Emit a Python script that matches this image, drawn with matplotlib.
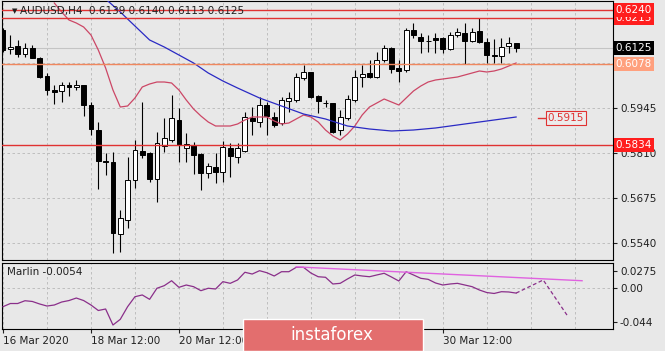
import numpy as np
import matplotlib
matplotlib.use("Agg")
import matplotlib.pyplot as plt
from matplotlib.patches import Rectangle
from matplotlib.transforms import blended_transform_factory

# ---- AUDUSD H4 candles (bar index 0 = 16 Mar 12:00) ----
opens = [0.6179, 0.6122, 0.6131, 0.6107, 0.6125, 0.6095, 0.6041, 0.5999, 0.5996, 0.6014,
         0.6008, 0.6014, 0.5954, 0.5879, 0.5786, 0.5783, 0.5567, 0.5609, 0.5729, 0.5816,
         0.5810, 0.5732, 0.5831, 0.5849, 0.5909, 0.5825, 0.5834, 0.5807, 0.5750, 0.5768,
         0.5753, 0.5825, 0.5798, 0.5816, 0.5915, 0.5903, 0.5954, 0.5918, 0.5900, 0.5966,
         0.5969, 0.6035, 0.6053, 0.5981, 0.5960, 0.5960, 0.5879, 0.5915, 0.5969, 0.6038,
         0.6050, 0.6038, 0.6089, 0.6125, 0.6065, 0.6059, 0.6179, 0.6158, 0.6146, 0.6155,
         0.6155, 0.6122, 0.6164, 0.6170, 0.6146, 0.6176, 0.6143, 0.6104, 0.6101, 0.6131,
         0.6139]
highs = [0.6185, 0.6164, 0.6149, 0.6140, 0.6134, 0.6098, 0.6050, 0.6014, 0.6023, 0.6023,
         0.6029, 0.6014, 0.5963, 0.5903, 0.5810, 0.5813, 0.5639, 0.5798, 0.5849, 0.5963,
         0.5813, 0.5873, 0.5915, 0.5984, 0.5945, 0.5870, 0.5843, 0.5810, 0.5780, 0.5810,
         0.5846, 0.5840, 0.5840, 0.5933, 0.5948, 0.5978, 0.5963, 0.5933, 0.5978, 0.5993,
         0.6050, 0.6074, 0.6053, 0.5984, 0.5969, 0.5960, 0.5939, 0.5984, 0.6059, 0.6074,
         0.6089, 0.6113, 0.6134, 0.6128, 0.6089, 0.6185, 0.6200, 0.6170, 0.6164, 0.6170,
         0.6158, 0.6173, 0.6185, 0.6200, 0.6185, 0.6215, 0.6155, 0.6152, 0.6155, 0.6158,
         0.6140]
lows = [0.6113, 0.6107, 0.6098, 0.6098, 0.6095, 0.6035, 0.5984, 0.5957, 0.5963, 0.5981,
        0.5999, 0.5921, 0.5864, 0.5702, 0.5744, 0.5510, 0.5513, 0.5585, 0.5705, 0.5795,
        0.5723, 0.5663, 0.5813, 0.5843, 0.5783, 0.5783, 0.5747, 0.5699, 0.5735, 0.5720,
        0.5723, 0.5738, 0.5780, 0.5813, 0.5864, 0.5888, 0.5864, 0.5888, 0.5894, 0.5933,
        0.5963, 0.6029, 0.5975, 0.5930, 0.5948, 0.5870, 0.5864, 0.5909, 0.5963, 0.6008,
        0.6035, 0.6035, 0.6083, 0.6050, 0.6023, 0.6053, 0.6155, 0.6110, 0.6113, 0.6110,
        0.6110, 0.6119, 0.6158, 0.6077, 0.6143, 0.6140, 0.6080, 0.6080, 0.6080, 0.6110,
        0.6113]
closes = [0.6119, 0.6129, 0.6107, 0.6125, 0.6095, 0.6038, 0.5999, 0.5994, 0.6014, 0.6008,
          0.6014, 0.5954, 0.5882, 0.5786, 0.5784, 0.5570, 0.5615, 0.5729, 0.5819, 0.5804,
          0.5732, 0.5840, 0.5855, 0.5915, 0.5834, 0.5837, 0.5804, 0.5750, 0.5771, 0.5753,
          0.5828, 0.5801, 0.5825, 0.5918, 0.5906, 0.5954, 0.5921, 0.5894, 0.5969, 0.5975,
          0.6038, 0.6053, 0.5978, 0.5966, 0.5959, 0.5873, 0.5918, 0.5972, 0.6038, 0.6047,
          0.6038, 0.6089, 0.6125, 0.6062, 0.6056, 0.6179, 0.6164, 0.6146, 0.6145, 0.6149,
          0.6122, 0.6164, 0.6173, 0.6146, 0.6173, 0.6143, 0.6104, 0.6101, 0.6128, 0.6140,
          0.6125]

# fast (red) line, starts at bar 7
red_start = 7
red_ma = [0.6260, 0.6233, 0.6209, 0.6200, 0.6188, 0.6164, 0.6119, 0.6065, 0.5999, 0.5948,
          0.5951, 0.5975, 0.6008, 0.6017, 0.6023, 0.6023, 0.6020, 0.5999, 0.5969, 0.5942,
          0.5921, 0.5903, 0.5891, 0.5891, 0.5891, 0.5897, 0.5909, 0.5918, 0.5918, 0.5918,
          0.5906, 0.5897, 0.5900, 0.5912, 0.5924, 0.5918, 0.5903, 0.5879, 0.5861, 0.5849,
          0.5867, 0.5891, 0.5924, 0.5948, 0.5960, 0.5972, 0.5963, 0.5954, 0.5975, 0.5996,
          0.6011, 0.6023, 0.6029, 0.6032, 0.6035, 0.6038, 0.6044, 0.6050, 0.6056, 0.6053,
          0.6056, 0.6062, 0.6071, 0.6080]
# slow (blue) line
blue_idx = [14, 16, 18, 20, 22, 24, 26, 28, 30, 32, 35, 38, 41, 44, 47, 50, 53, 56, 59, 62, 66, 70]
blue_ma = [0.6272, 0.6233, 0.6191, 0.6149, 0.6128, 0.6104, 0.6080, 0.6050, 0.6026, 0.6005, 0.5975,
           0.5951, 0.5927, 0.5912, 0.5891, 0.5882, 0.5876, 0.5879, 0.5885, 0.5894, 0.5906, 0.5918]

# Marlin oscillator
marlin = [-0.0200, -0.0166, -0.0166, -0.0136, -0.0144, -0.0171, -0.0193, -0.0182, -0.0150, -0.0134,
          -0.0107, -0.0134, -0.0182, -0.0241, -0.0225, -0.0397, -0.0336, -0.0200, -0.0093, -0.0074,
          -0.0121, -0.0002, 0.0026, 0.0079, 0.0008, 0.0033, 0.0015, -0.0028, -0.0002, -0.0010,
          0.0069, 0.0051, 0.0087, 0.0170, 0.0151, 0.0187, 0.0165, 0.0130, 0.0176, 0.0176,
          0.0223, 0.0223, 0.0162, 0.0122, 0.0116, 0.0044, 0.0051, 0.0098, 0.0141, 0.0130,
          0.0122, 0.0141, 0.0159, 0.0119, 0.0076, 0.0176, 0.0141, 0.0105, 0.0094, 0.0055,
          0.0033, 0.0044, 0.0051, 0.0033, 0.0015, -0.0021, -0.0048, -0.0058, -0.0039, -0.0042,
          -0.0054]
trend_x = [40, 79]
trend_y = [0.0228, 0.0079]
fc_x = [70, 73.7, 77]
fc_y = [-0.0054, 0.0087, -0.0297]

levels_red = [0.6240, 0.6215, 0.5834]
level_orange = 0.6078
bid = 0.6125
target = 0.5915

price_ticks = [0.5540, 0.5675, 0.5810, 0.5945, 0.6080, 0.6215]
price_labels = ["0.5540", "0.5675", "0.5810", "0.5945", "", ""]   # top two sit under the level boxes
date_ticks = [0, 12, 24, 36, 48, 60]
date_labels = ["16 Mar 2020", "18 Mar 12:00", "20 Mar 12:00", "", "", "30 Mar 12:00"]  # middle ones under the logo

BG = "#e8e8e8"
FS = 7.5
W, H = 665, 351
fig = plt.figure(figsize=(W / 100, H / 100), dpi=100, facecolor=BG)
ax = fig.add_axes([2 / W, 1 - 260 / H, 611 / W, 259 / H], facecolor=BG)
ax2 = fig.add_axes([2 / W, 1 - 329 / H, 611 / W, 66.5 / H], facecolor=BG)

xlim = (-1 / 7.33, 610 / 7.33)
grid_kw = dict(color="#b8b8b8", lw=0.6, ls=(0, (3, 3)))
for a in (ax, ax2):
    a.set_xlim(*xlim)
    for s in a.spines.values():
        s.set_color("black"); s.set_linewidth(0.8)
    for gx in np.arange(0, 84, 6):
        a.axvline(gx, zorder=0, **grid_kw)

# ---- main panel ----
ax.set_ylim(0.6269 - 0.0003 * 260, 0.6269 - 0.0003 * 1)
for p in price_ticks:
    ax.axhline(p, zorder=0, **grid_kw)
ax.yaxis.tick_right()
ax.set_yticks(price_ticks)
ax.set_yticklabels(price_labels)
ax.tick_params(axis="y", length=3, width=0.8, labelsize=FS, pad=2, colors="#202020")
ax.set_xticks([])

w = 0.66
for i, (o, h, l, c) in enumerate(zip(opens, highs, lows, closes)):
    ax.vlines(i, l, h, color="black", lw=0.8, zorder=3)
    col = "white" if c > o else "black"
    ax.add_patch(Rectangle((i - w / 2, min(o, c)), w, max(abs(c - o), 0.00005),
                           fc=col, ec="black", lw=0.7, zorder=4))

ax.plot(np.arange(red_start, red_start + len(red_ma)), red_ma, color="#cc4766", lw=0.9, zorder=5)
ax.plot(blue_idx, blue_ma, color="#2a2ac4", lw=0.9, zorder=5)

ax.axhline(bid, color="#c4c4c4", lw=0.8, zorder=1)
for lv in levels_red:
    ax.axhline(lv, color="#e03232", lw=1.0, zorder=6)
ax.axhline(level_orange, color="#f0875e", lw=1.0, zorder=6)

tr = blended_transform_factory(ax.transAxes, ax.transData)
def axis_box(v, fc, z):
    ax.text(1.004, v, f"{v:.4f}", transform=tr, ha="left", va="center", fontsize=FS,
            color="white", clip_on=False, zorder=z,
            bbox=dict(boxstyle="square,pad=0.18", fc=fc, ec="none"))
axis_box(0.6215, "#ff1e1e", 7)
axis_box(0.6240, "#ff1e1e", 8)
axis_box(bid, "black", 7)
axis_box(level_orange, "#ffa07e", 7)
axis_box(0.5834, "#ff1e1e", 7)

# target label
ax.plot([73.0, 74.4], [target, target], color="#e03232", lw=1.0, zorder=6)
ax.text(76.8, target, f"{target:.4f}", ha="center", va="center", fontsize=FS, color="#e03232",
        zorder=7, bbox=dict(boxstyle="square,pad=0.15", fc="#ececec", ec="#e03232", lw=0.8))

ax.text(13 / 611, 1 - 10 / 259, "▼", transform=ax.transAxes, fontsize=5, ha="center",
        va="center", color="#202020", zorder=9)
ax.text(18 / 611, 1 - 10 / 259, "AUDUSD,H4  0.6139 0.6140 0.6113 0.6125", transform=ax.transAxes,
        fontsize=FS, ha="left", va="center", color="#202020", zorder=9)

# ---- Marlin panel ----
ax2.set_ylim(-0.044, 0.0275)
ax2.axhline(0, zorder=0, **grid_kw)
ax2.plot(range(len(marlin)), marlin, color="#8a2f8a", lw=0.9, zorder=3)
ax2.plot(trend_x, trend_y, color="#e062e0", lw=1.0, zorder=4)
ax2.plot(fc_x, fc_y, color="#8a2f8a", lw=0.9, ls=(0, (3, 2)), zorder=3)
ax2.yaxis.tick_right()
upp = 0.0715 / 66.5
ax2.set_yticks([0.0275 - 8.5 * upp, 0.0, -0.044 + 7 * upp])
ax2.set_yticklabels(["0.0275", "0.00", "-0.044"])
ax2.tick_params(axis="y", length=3, width=0.8, labelsize=FS, pad=2, colors="#202020")
ax2.set_xticks(date_ticks)
ax2.set_xticklabels(date_labels, ha="left")
ax2.tick_params(axis="x", length=3, width=0.8, labelsize=FS, pad=2, colors="#202020")
ax2.text(5 / 611, 0.86, "Marlin -0.0054", transform=ax2.transAxes, fontsize=FS,
         ha="left", va="center", color="#202020")

# ---- watermark ----
fig.add_artist(Rectangle((243 / W, 0), 180 / W, 32 / H, transform=fig.transFigure,
                         fc="#e36e6e", ec="white", lw=1.0, zorder=10))
fig.text(332 / W, 1 - 335 / H, "instaforex", fontsize=12, color="white", ha="center",
         va="center", zorder=11)

fig.savefig("out.png", dpi=100, facecolor=BG)
